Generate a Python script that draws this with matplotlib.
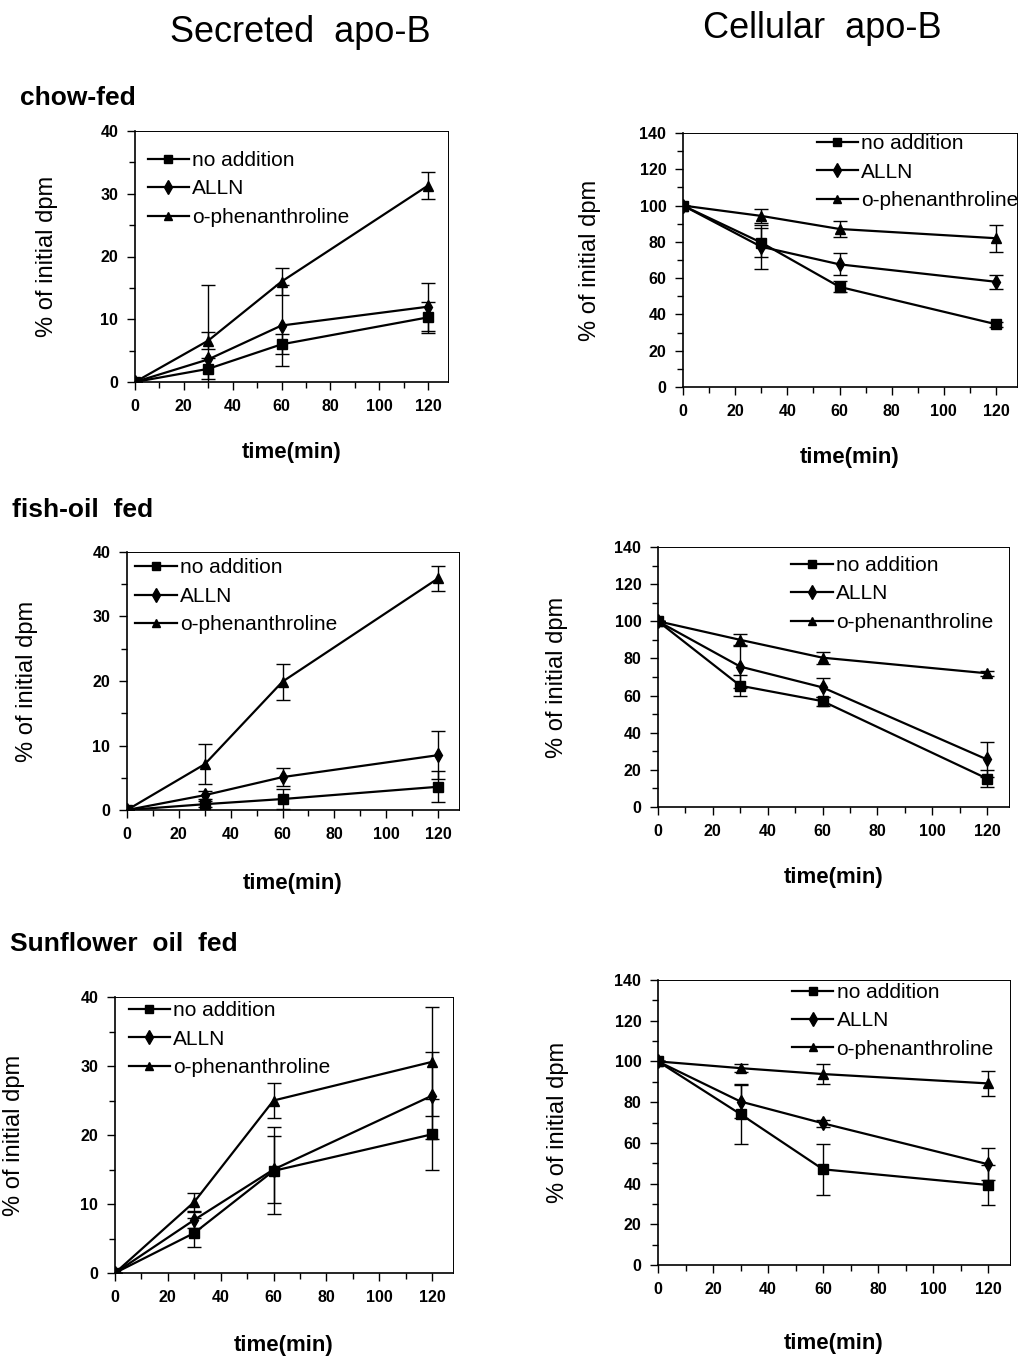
import numpy as np
import matplotlib
matplotlib.use("Agg")
import matplotlib.pyplot as plt
from matplotlib.ticker import MultipleLocator
from matplotlib.lines import Line2D

plt.rcParams["font.family"] = ["Liberation Sans Narrow", "Liberation Sans", "DejaVu Sans"]

time_min = [0, 30, 60, 120]
series_names = ["no addition", "ALLN", "o-phenanthroline"]

# secreted apo-B (% of initial dpm)
chow_sec_noadd = [0, 2.1, 6.0, 10.3]
chow_sec_noadd_err = [0, 1.7, 1.6, 2.5]
chow_sec_alln = [0, 3.6, 9.0, 12.0]
chow_sec_alln_err = [0, 11.9, 6.4, 3.8]
chow_sec_ophen = [0, 6.6, 16.0, 31.3]
chow_sec_ophen_err = [0, 1.3, 2.1, 2.1]

fish_sec_noadd = [0, 0.9, 1.7, 3.6]
fish_sec_noadd_err = [0, 0.5, 1.6, 2.4]
fish_sec_alln = [0, 2.3, 5.1, 8.5]
fish_sec_alln_err = [0, 0.6, 1.4, 3.7]
fish_sec_ophen = [0, 7.1, 19.9, 35.9]
fish_sec_ophen_err = [0, 3.1, 2.8, 2.0]

sun_sec_noadd = [0, 5.8, 14.8, 20.1]
sun_sec_noadd_err = [0, 2.1, 6.3, 5.1]
sun_sec_alln = [0, 7.7, 15.0, 25.7]
sun_sec_alln_err = [0, 1.2, 4.9, 6.3]
sun_sec_ophen = [0, 10.3, 25.0, 30.6]
sun_sec_ophen_err = [0, 1.3, 2.5, 7.9]

# cellular apo-B (% of initial dpm)
chow_cel_noadd = [100, 79.6, 55.2, 34.6]
chow_cel_noadd_err = [0, 8.0, 3.0, 1.5]
chow_cel_alln = [100, 77.3, 67.6, 58.0]
chow_cel_alln_err = [0, 12.0, 6.0, 4.0]
chow_cel_ophen = [100, 94.3, 87.1, 82.0]
chow_cel_ophen_err = [0, 4.0, 4.6, 7.4]

fish_cel_noadd = [100, 65.3, 57.0, 15.3]
fish_cel_noadd_err = [0, 5.6, 2.5, 4.5]
fish_cel_alln = [100, 75.6, 64.4, 25.6]
fish_cel_alln_err = [0, 11.5, 5.0, 9.5]
fish_cel_ophen = [100, 90.0, 80.4, 72.0]
fish_cel_ophen_err = [0, 3.3, 3.2, 1.5]

sun_cel_noadd = [100, 74.1, 47.0, 39.3]
sun_cel_noadd_err = [0, 14.8, 12.5, 10.0]
sun_cel_alln = [100, 80.3, 69.6, 49.5]
sun_cel_alln_err = [0, 8.0, 1.6, 7.8]
sun_cel_ophen = [100, 96.7, 93.8, 89.2]
sun_cel_ophen_err = [0, 2.0, 4.8, 6.2]

W, H = 1024, 1361
fig = plt.figure(figsize=(W / 100, H / 100), dpi=100)


def add_ax(x0, x120, ytop, ybot):
    width = (x120 - x0) * 128 / 120
    return fig.add_axes([x0 / W, 1 - ybot / H, width / W, (ybot - ytop) / H])


markers = ["s", "d", "^"]
msizes = [6.5, 7.5, 6.5]


def draw(ax, ys, errs, ymax, ystep, leg_xy, ylab_x, xlab_y):
    handles = []
    for y, e, m, ms, name in zip(ys, errs, markers, msizes, series_names):
        ax.errorbar(time_min, y, yerr=e, color="black", lw=1.6, marker=m,
                    ms=ms, mfc="black", mec="black",
                    elinewidth=1.0, capsize=5, capthick=1.0)
        handles.append(Line2D([], [], color="black", lw=1.6, marker=m,
                              ms=ms - 0.5, label=name))
    ax.set_xlim(0, 128)
    ax.set_ylim(0, ymax)
    ax.set_xticks([0, 20, 40, 60, 80, 100, 120])
    ax.xaxis.set_minor_locator(MultipleLocator(10))
    ax.yaxis.set_major_locator(MultipleLocator(ystep))
    ax.yaxis.set_minor_locator(MultipleLocator(ystep / 2))
    ax.tick_params(which="major", direction="out", length=6, width=1,
                   labelsize=11.5, pad=6)
    ax.tick_params(which="minor", direction="out", length=4, width=1)
    for lbl in ax.get_xticklabels() + ax.get_yticklabels():
        lbl.set_fontweight("bold")
    for s in ["top", "right"]:
        ax.spines[s].set_linewidth(0.7)
    for s in ["left", "bottom"]:
        ax.spines[s].set_linewidth(1.2)
    ax.set_xlabel("time(min)", fontsize=16, fontweight="bold")
    ax.set_ylabel("% of initial dpm", fontsize=17)
    pos = ax.get_position()
    ax.xaxis.set_label_coords((pos.x0 + pos.x1) / 2, 1 - xlab_y / H,
                              transform=fig.transFigure)
    ax.yaxis.set_label_coords(ylab_x / W, (pos.y0 + pos.y1) / 2,
                              transform=fig.transFigure)
    ax.xaxis.label.set_va("center")
    ax.yaxis.label.set_va("center")
    ax.legend(handles=handles, loc="upper left", bbox_to_anchor=leg_xy,
              frameon=False, fontsize=15, handlelength=2.0,
              handletextpad=0.15, labelspacing=0.45, borderaxespad=0,
              borderpad=0)


ax1 = add_ax(135, 428, 131, 382)
draw(ax1, [chow_sec_noadd, chow_sec_alln, chow_sec_ophen],
     [chow_sec_noadd_err, chow_sec_alln_err, chow_sec_ophen_err],
     40, 10, (0.04, 0.92), 47, 452)

ax2 = add_ax(683, 996, 133, 387)
draw(ax2, [chow_cel_noadd, chow_cel_alln, chow_cel_ophen],
     [chow_cel_noadd_err, chow_cel_alln_err, chow_cel_ophen_err],
     140, 20, (0.40, 0.995), 590, 457)

ax3 = add_ax(127, 438, 552, 810)
draw(ax3, [fish_sec_noadd, fish_sec_alln, fish_sec_ophen],
     [fish_sec_noadd_err, fish_sec_alln_err, fish_sec_ophen_err],
     40, 10, (0.025, 0.975), 27, 883)

ax4 = add_ax(658, 987, 547, 807)
draw(ax4, [fish_cel_noadd, fish_cel_alln, fish_cel_ophen],
     [fish_cel_noadd_err, fish_cel_alln_err, fish_cel_ophen_err],
     140, 20, (0.38, 0.965), 557, 877)

ax5 = add_ax(115, 432, 997, 1273)
draw(ax5, [sun_sec_noadd, sun_sec_alln, sun_sec_ophen],
     [sun_sec_noadd_err, sun_sec_alln_err, sun_sec_ophen_err],
     40, 10, (0.04, 0.985), 14, 1345)

ax6 = add_ax(658, 988, 980, 1265)
draw(ax6, [sun_cel_noadd, sun_cel_alln, sun_cel_ophen],
     [sun_cel_noadd_err, sun_cel_alln_err, sun_cel_ophen_err],
     140, 20, (0.38, 0.99), 558, 1343)

fig.text(300 / W, 1 - 33 / H, "Secreted  apo-B", ha="center", va="center",
         fontsize=26)
fig.text(822 / W, 1 - 28 / H, "Cellular  apo-B", ha="center", va="center",
         fontsize=26)
fig.text(20 / W, 1 - 98 / H, "chow-fed", ha="left", va="center",
         fontsize=19, fontweight="bold")
fig.text(12 / W, 1 - 510 / H, "fish-oil  fed", ha="left", va="center",
         fontsize=19, fontweight="bold")
fig.text(10 / W, 1 - 944 / H, "Sunflower  oil  fed", ha="left", va="center",
         fontsize=19, fontweight="bold")

fig.savefig("out.png", dpi=100)
